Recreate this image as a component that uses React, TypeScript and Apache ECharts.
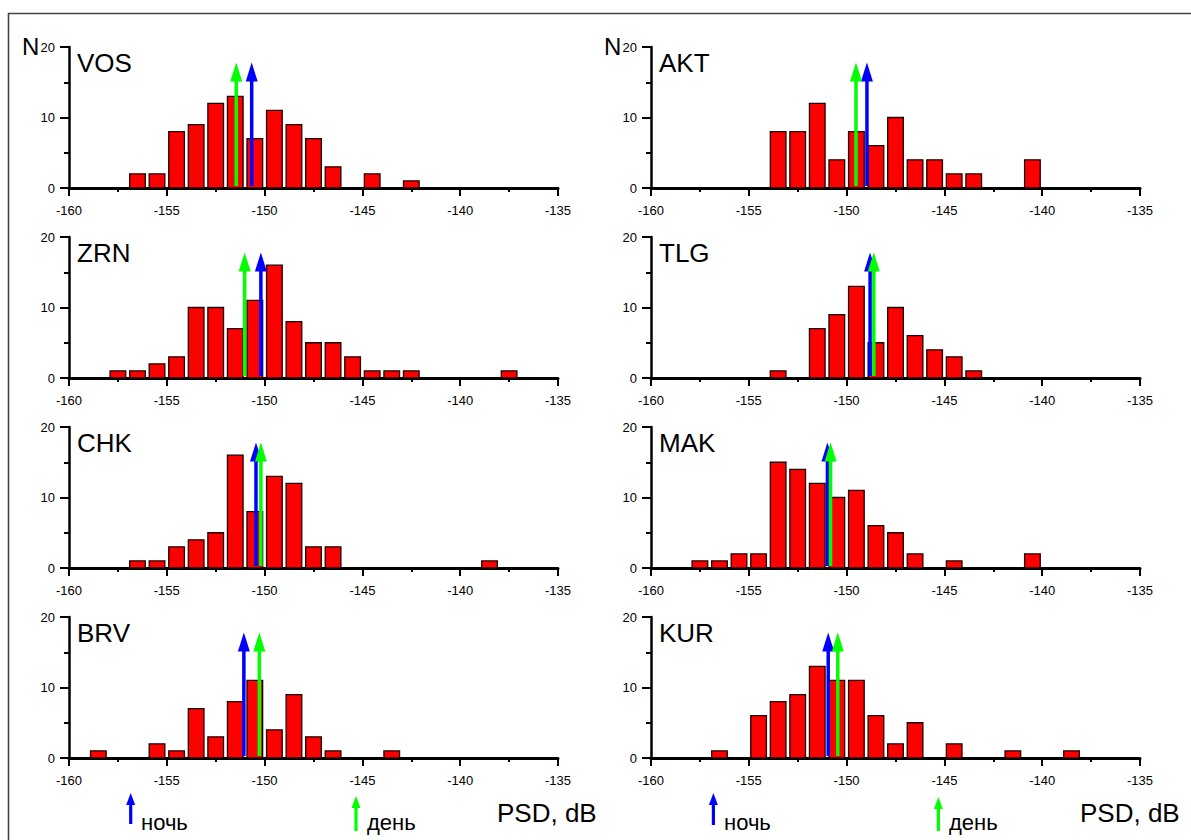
import React, { useEffect, useRef } from "react";
import * as echarts from "echarts";

// ---------- DATA ----------
// 1-dB bins from -160 to -135 (25 bins); bin i is centred at -159.5 + i
const binCenters = [
  -159.5, -158.5, -157.5, -156.5, -155.5, -154.5, -153.5, -152.5, -151.5, -150.5,
  -149.5, -148.5, -147.5, -146.5, -145.5, -144.5, -143.5, -142.5, -141.5, -140.5,
  -139.5, -138.5, -137.5, -136.5, -135.5,
];

const stations = ["VOS", "AKT", "ZRN", "TLG", "CHK", "MAK", "BRV", "KUR"];

const countsVOS = [0, 0, 0, 2, 2, 8, 9, 12, 13, 7, 11, 9, 7, 3, 0, 2, 0, 1, 0, 0, 0, 0, 0, 0, 0];
const countsAKT = [0, 0, 0, 0, 0, 0, 8, 8, 12, 4, 8, 6, 10, 4, 4, 2, 2, 0, 0, 4, 0, 0, 0, 0, 0];
const countsZRN = [0, 0, 1, 1, 2, 3, 10, 10, 7, 11, 16, 8, 5, 5, 3, 1, 1, 1, 0, 0, 0, 0, 1, 0, 0];
const countsTLG = [0, 0, 0, 0, 0, 0, 1, 0, 7, 9, 13, 5, 10, 6, 4, 3, 1, 0, 0, 0, 0, 0, 0, 0, 0];
const countsCHK = [0, 0, 0, 1, 1, 3, 4, 5, 16, 8, 13, 12, 3, 3, 0, 0, 0, 0, 0, 0, 0, 1, 0, 0, 0];
const countsMAK = [0, 0, 1, 1, 2, 2, 15, 14, 12, 10, 11, 6, 5, 2, 0, 1, 0, 0, 0, 2, 0, 0, 0, 0, 0];
const countsBRV = [0, 1, 0, 0, 2, 1, 7, 3, 8, 11, 4, 9, 3, 1, 0, 0, 1, 0, 0, 0, 0, 0, 0, 0, 0];
const countsKUR = [0, 0, 0, 1, 0, 6, 8, 9, 13, 11, 11, 6, 2, 5, 0, 2, 0, 0, 1, 0, 0, 1, 0, 0, 0];

const counts = [countsVOS, countsAKT, countsZRN, countsTLG, countsCHK, countsMAK, countsBRV, countsKUR];

// median PSD markers (dB): night (blue) and day (green), same station order
const nightMarker = [-150.66, -148.96, -150.19, -148.8, -150.44, -150.98, -151.06, -150.94];
const dayMarker = [-151.45, -149.52, -151.02, -148.61, -150.19, -150.82, -150.27, -150.45];
const markerTop = 17.8;

const xTicks = { min: -160, max: -135, step: 5 };
const yTicks = { min: 0, max: 20, step: 10 };

const legendNight = "ночь";
const legendDay = "день";
const xTitle = "PSD, dB";
const yTitle = "N";

// ---------- LAYOUT ----------
const FONT = '"Liberation Sans", Arial, Helvetica, sans-serif';
const colLeft = [69, 651];
const rowTop = [47, 237, 427, 617];
const plotW = 489;
const plotH = 141;
const BLUE = "#0000ff";
const GREEN = "#00ff00";

function legendArrow(x: number, yBottom: number, yTip: number, color: string) {
  return {
    type: "group",
    children: [
      { type: "line", shape: { x1: x, y1: yBottom, x2: x, y2: yTip + 10 }, style: { stroke: color, lineWidth: 3.2 } },
      {
        type: "polygon",
        shape: { points: [[x - 4.5, yTip + 12], [x + 4.5, yTip + 12], [x, yTip]] },
        style: { fill: color },
      },
    ],
  };
}

function label(text: string, x: number, y: number, size: number) {
  return {
    type: "text",
    x,
    y,
    style: { text, fill: "#000", font: `${size}px ${FONT}`, verticalAlign: "middle", align: "left" },
  };
}

export default function App() {
  const ref = useRef<HTMLDivElement>(null);

  useEffect(() => {
    if (!ref.current) return;
    const chart = echarts.init(ref.current, undefined, { renderer: "svg" });

    const grids: any[] = [];
    const xAxes: any[] = [];
    const yAxes: any[] = [];
    const series: any[] = [];
    const graphics: any[] = [];

    stations.forEach((name, i) => {
      const col = i % 2;
      const row = Math.floor(i / 2);
      const left = colLeft[col];
      const top = rowTop[row];
      grids.push({ left, top, width: plotW, height: plotH, containLabel: false });
      xAxes.push({
        gridIndex: i,
        type: "value",
        min: xTicks.min,
        max: xTicks.max,
        interval: xTicks.step,
        axisLine: { show: true, onZero: false, lineStyle: { color: "#000", width: 3 } },
        axisTick: { show: true, length: 8, lineStyle: { color: "#000", width: 2 } },
        minorTick: { show: true, splitNumber: 2, length: 4, lineStyle: { color: "#000", width: 2 } },
        splitLine: { show: false },
        minorSplitLine: { show: false },
        axisLabel: { fontSize: 13, color: "#000", margin: 16, fontFamily: FONT },
      });
      yAxes.push({
        gridIndex: i,
        type: "value",
        min: yTicks.min,
        max: yTicks.max,
        interval: yTicks.step,
        axisLine: { show: true, lineStyle: { color: "#000", width: 2.5 } },
        axisTick: { show: true, length: 9, lineStyle: { color: "#000", width: 2 } },
        minorTick: { show: true, splitNumber: 2, length: 5, lineStyle: { color: "#000", width: 2 } },
        splitLine: { show: false },
        minorSplitLine: { show: false },
        axisLabel: { fontSize: 13, color: "#000", margin: 14, fontFamily: FONT },
      });

      series.push({
        type: "custom",
        xAxisIndex: i,
        yAxisIndex: i,
        encode: { x: 0, y: 1 },
        data: binCenters.map((c, k) => [c, counts[i][k]]),
        renderItem: (params: any, api: any) => {
          const c = api.value(0);
          const n = api.value(1);
          if (!n) return null;
          const p0 = api.coord([c - 0.4, n]);
          const p1 = api.coord([c + 0.4, 0]);
          return {
            type: "rect",
            shape: { x: p0[0], y: p0[1], width: p1[0] - p0[0], height: p1[1] - p0[1] },
            style: { fill: "#ff0000", stroke: "#1a0000", lineWidth: 1.3 },
          };
        },
        z: 3,
      });

      series.push({
        type: "custom",
        xAxisIndex: i,
        yAxisIndex: i,
        encode: { x: 0, y: 1 },
        data: [
          [nightMarker[i], markerTop, 0],
          [dayMarker[i], markerTop, 1],
        ],
        renderItem: (params: any, api: any) => {
          const x = api.value(0);
          const tip = api.value(1);
          const k = api.value(2);
          const b = api.coord([x, 0]);
          const t = api.coord([x, tip]);
          const color = k === 0 ? BLUE : GREEN;
          return {
            type: "group",
            children: [
              {
                type: "line",
                shape: { x1: b[0], y1: b[1] - 2, x2: t[0], y2: t[1] + 16 },
                style: { stroke: color, lineWidth: 3.5 },
              },
              {
                type: "polygon",
                shape: { points: [[t[0] - 6, t[1] + 19], [t[0] + 6, t[1] + 19], [t[0], t[1]]] },
                style: { fill: color },
              },
            ],
          };
        },
        z: 5,
      });

      graphics.push(label(name, left + 8, top + 15.5, 26));
      if (row === 0) graphics.push(label(yTitle, left - 47, top - 1, 24));
    });

    // frame
    graphics.push({ type: "line", shape: { x1: 8.5, y1: 13, x2: 8.5, y2: 840 }, style: { stroke: "#444", lineWidth: 1.6 } });
    graphics.push({ type: "line", shape: { x1: 8, y1: 13.5, x2: 1191, y2: 13.5 }, style: { stroke: "#444", lineWidth: 1.6 } });

    // legends
    graphics.push(legendArrow(130.7, 824, 793, BLUE));
    graphics.push(label(legendNight, 141, 822, 22));
    graphics.push(legendArrow(356, 831, 796, GREEN));
    graphics.push(label(legendDay, 367, 822, 22));
    graphics.push(label(xTitle, 497, 812.5, 26));

    graphics.push(legendArrow(713.4, 825, 793, BLUE));
    graphics.push(label(legendNight, 724, 822, 22));
    graphics.push(legendArrow(938.4, 831, 797, GREEN));
    graphics.push(label(legendDay, 949, 822, 22));
    graphics.push(label(xTitle, 1080, 812.5, 26));

    chart.setOption({
      animation: false,
      backgroundColor: "#fff",
      textStyle: { fontFamily: FONT },
      grid: grids,
      xAxis: xAxes,
      yAxis: yAxes,
      series,
      graphic: graphics,
    });

    return () => chart.dispose();
  }, []);

  return (
    <div
      ref={ref}
      style={{ position: "absolute", left: 0, top: 0, width: 1191, height: 840, background: "#fff" }}
    />
  );
}
